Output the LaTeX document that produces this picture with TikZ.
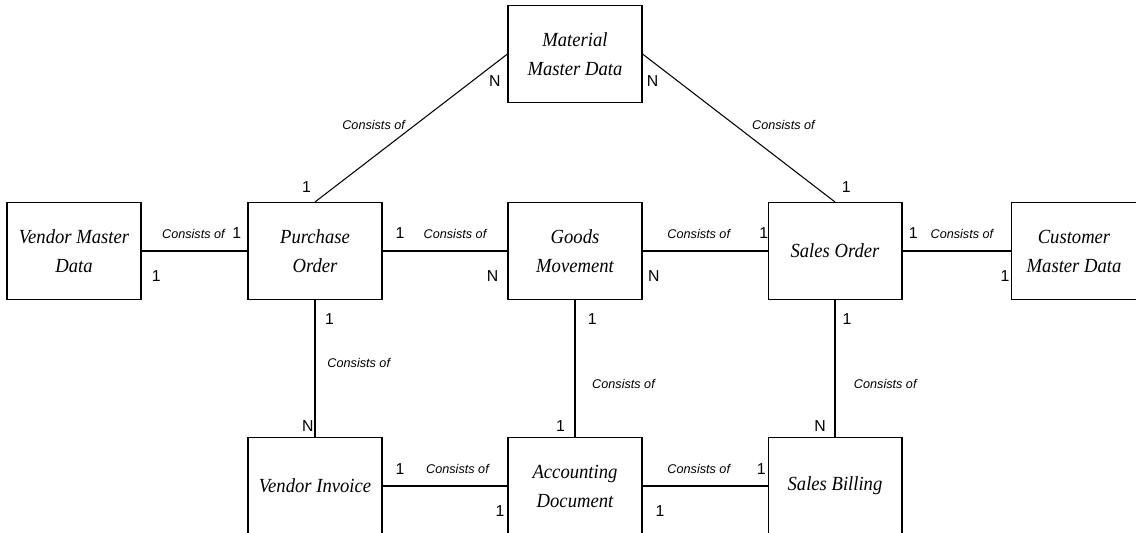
\documentclass[tikz,border=0pt]{standalone}
\usepackage{fontspec}
\setmainfont{Liberation Serif}[FakeStretch=0.93]
\setsansfont{Liberation Sans}
\usetikzlibrary{positioning}

\begin{document}
\begin{tikzpicture}[x=0.02cm,y=-0.02cm,line width=0.6pt,
  main node/.style={rectangle,draw,minimum width=2.68cm,minimum height=1.94cm,align=center,inner sep=2pt,font=\itshape\fontsize{11.4}{16.5}\selectfont},
  rel/.style={font=\sffamily\itshape\fontsize{7.2}{7.2}\selectfont,inner sep=0pt},
  card/.style={font=\sffamily\fontsize{9}{9}\selectfont,inner sep=0pt}]

  \useasboundingbox (0,0) rectangle (1136,533);
  \clip (0,0) rectangle (1136,533);

  \node[main node] (po) at (315,251) {Purchase\\Order};
  \node[main node] (vm) [left=2.12cm of po] {Vendor Master\\Data};
  \node[main node] (gm) [right=2.5cm of po] {Goods\\Movement};
  \node[main node] (so) [right=2.5cm of gm] {Sales Order};
  \node[main node,minimum width=2.52cm] (cm) [right=2.16cm of so] {Customer\\Master Data};
  \node[main node] (mm) [above=1.98cm of gm] {Material\\Master Data};
  \node[main node] (vi) [below=2.74cm of po] {Vendor Invoice};
  \node[main node] (ad) [below=2.74cm of gm] {Accounting\\Document};
  \node[main node] (sb) [below=2.74cm of so] {Sales Billing};

  % top row
  \path
    (vm) edge node[rel,pos=.49,above=7pt] {Consists of} node[card,pos=.9,above=7pt] {1} node[card,pos=.14,below=11pt] {1} (po)
    (po) edge node[card,pos=.14,above=7pt] {1} node[rel,pos=.58,above=7pt] {Consists of} node[card,pos=.88,below=11pt] {N} (gm)
    (gm) edge node[rel,pos=.45,above=7pt] {Consists of} node[card,pos=.97,above=7pt] {1} node[card,pos=.09,below=11pt] {N} (so)
    (so) edge node[card,pos=.1,above=7pt] {1} node[rel,pos=.55,above=7pt] {Consists of} node[card,pos=.95,below=11pt] {1} (cm);

  % material master data
  \path
    (mm.west) edge node[card,pos=.18,right=9pt] {N} node[rel,pos=.48,left=5.5pt] {Consists of} node[card,pos=.9,left=13pt] {1} (po.north)
    (mm.east) edge node[card,pos=.18,left=10.5pt] {N} node[rel,pos=.48,right=9.5pt] {Consists of} node[card,pos=.9,right=14.5pt] {1} (so.north);

  % down to bottom row
  \path
    (po) edge node[card,pos=.14,right=5.5pt] {1} node[rel,pos=.46,right=6.8pt] {Consists of} node[card,pos=.92,left=0.5pt] {N} (vi)
    (gm) edge node[card,pos=.14,right=7pt] {1} node[rel,pos=.61,right=9.5pt] {Consists of} node[card,pos=.92,left=5.5pt] {1} (ad)
    (so) edge node[card,pos=.14,right=4pt] {1} node[rel,pos=.61,right=10.5pt] {Consists of} node[card,pos=.92,left=5pt] {N} (sb);

  % bottom row
  \path
    (vi) edge node[card,pos=.14,above=6.5pt] {1} node[rel,pos=.6,above=6.5pt] {Consists of} node[card,pos=.94,below=11pt] {1} (ad)
    (ad) edge node[rel,pos=.45,above=6.5pt] {Consists of} node[card,pos=.95,above=6.5pt] {1} node[card,pos=.14,below=11pt] {1} (sb);
\end{tikzpicture}
\end{document}
